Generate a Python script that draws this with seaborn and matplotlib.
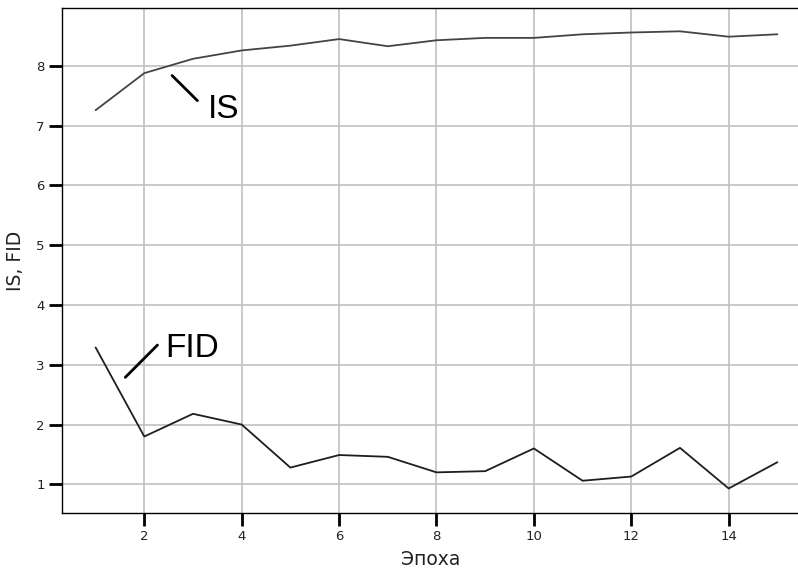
import matplotlib
matplotlib.use("Agg")
import matplotlib.pyplot as plt
import seaborn as sns
import pandas as pd

epochs = list(range(1, 16))
is_values = [7.26, 7.88, 8.12, 8.26, 8.34, 8.45, 8.33, 8.43, 8.47, 8.47, 8.53, 8.56, 8.58, 8.49, 8.53]
fid_values = [3.29, 1.80, 2.18, 2.00, 1.28, 1.49, 1.46, 1.20, 1.22, 1.60, 1.06, 1.13, 1.61, 0.93, 1.37]
x_ticks = [2, 4, 6, 8, 10, 12, 14]
y_ticks = [1, 2, 3, 4, 5, 6, 7, 8]

sns.set_style("whitegrid")
plt.rcParams['font.family'] = ['DejaVu Sans']

df_is = pd.DataFrame({"epoch": epochs, "value": is_values})
df_fid = pd.DataFrame({"epoch": epochs, "value": fid_values})

fig = plt.figure(figsize=(7.98, 5.68), dpi=100)
ax = fig.add_axes([62/798, 1 - 513/568, 1 - 62/798 + 0.001, (513 - 8)/568])

sns.lineplot(data=df_is, x="epoch", y="value", ax=ax, color="#444444", linewidth=1.3)
sns.lineplot(data=df_fid, x="epoch", y="value", ax=ax, color="#1e1e1e", linewidth=1.3)

ax.set_xlim(0.31, 15.44)
ax.set_ylim(0.52, 8.97)
ax.set_xticks(x_ticks)
ax.set_yticks(y_ticks)
ax.grid(True, color="#c0c0c0", linewidth=1.2)
for s in ["left", "bottom", "top"]:
    ax.spines[s].set_color("black")
    ax.spines[s].set_linewidth(1.0)
    ax.spines[s].set_visible(True)
ax.spines["right"].set_visible(False)
ax.tick_params(axis="both", which="major", bottom=True, left=True, top=False, right=False,
               direction="out", length=9.5, width=2, color="black",
               labelsize=9.5, labelcolor="#222222", pad=3)
ax.set_xlabel("Эпоха", fontsize=13.5, color="#222222", labelpad=5)
ax.set_ylabel("IS, FID", fontsize=13.5, color="#222222", labelpad=8)

# annotations
ax.plot([2.57, 3.09], [7.84, 7.42], color="black", linewidth=2)
ax.text(3.30, 7.27, "IS", fontsize=24, family=["Liberation Sans"], va="center", ha="left", color="black")
ax.plot([1.61, 2.27], [2.79, 3.33], color="black", linewidth=2)
ax.text(2.44, 3.27, "FID", fontsize=24, family=["Liberation Sans"], va="center", ha="left", color="black")

fig.savefig("out.png", dpi=100)
